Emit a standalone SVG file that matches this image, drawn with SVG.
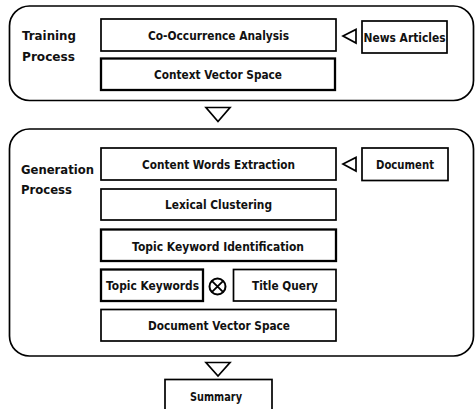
<svg xmlns="http://www.w3.org/2000/svg" width="475" height="409" viewBox="0 0 475 409">
<style>
.c{fill:#fff;stroke:#000;stroke-width:1.7}
.b{fill:#fff;stroke:#000;stroke-width:1.7}
.bt{fill:#fff;stroke:#000;stroke-width:2.3}
.t{font-family:"DejaVu Sans",Verdana,sans-serif;font-weight:bold;font-size:12.5px;fill:#111}
.m{text-anchor:middle}
.a{fill:#fff;stroke:#000;stroke-width:1.7;stroke-linejoin:miter}
</style>
<rect width="475" height="409" fill="#fff"/>
<g id="training">
<rect class="c" x="9.5" y="6" width="464" height="94.5" rx="20"/>
<text class="t" x="22" y="39.5" textLength="54" lengthAdjust="spacingAndGlyphs">Training</text>
<text class="t" x="22" y="60.5" textLength="53" lengthAdjust="spacingAndGlyphs">Process</text>
</g>
<g id="generation">
<rect class="c" x="9.5" y="129" width="464" height="227" rx="20"/>
<text class="t" x="21" y="173.5" textLength="73" lengthAdjust="spacingAndGlyphs">Generation</text>
<text class="t" x="21" y="193.5" textLength="51" lengthAdjust="spacingAndGlyphs">Process</text>
</g>
<g id="cooccurrence">
<rect class="b" x="101" y="19" width="235" height="32"/>
<text class="t m" x="218.5" y="39.5" textLength="141" lengthAdjust="spacingAndGlyphs">Co-Occurrence Analysis</text>
</g>
<g id="context">
<rect class="bt" x="101" y="58.5" width="234" height="31.5"/>
<text class="t m" x="218" y="79" textLength="128" lengthAdjust="spacingAndGlyphs">Context Vector Space</text>
</g>
<g id="news">
<rect class="b" x="362" y="21" width="85" height="32"/>
<text class="t m" x="404.5" y="41.5" textLength="82" lengthAdjust="spacingAndGlyphs">News Articles</text>
</g>
<g id="content">
<rect class="b" x="101" y="148" width="235" height="32"/>
<text class="t m" x="218.5" y="168.5" textLength="153" lengthAdjust="spacingAndGlyphs">Content Words Extraction</text>
</g>
<g id="document">
<rect class="b" x="362" y="148" width="86" height="32.5"/>
<text class="t m" x="405" y="168.5" textLength="58" lengthAdjust="spacingAndGlyphs">Document</text>
</g>
<g id="lexical">
<rect class="b" x="101" y="189" width="235" height="31"/>
<text class="t m" x="218.5" y="209" textLength="107" lengthAdjust="spacingAndGlyphs">Lexical Clustering</text>
</g>
<g id="topicid">
<rect class="bt" x="101" y="229.5" width="235" height="31.5"/>
<text class="t m" x="218" y="250.5" textLength="172" lengthAdjust="spacingAndGlyphs">Topic Keyword Identification</text>
</g>
<g id="topickw">
<rect class="bt" x="101" y="269.5" width="102" height="31.5"/>
<text class="t m" x="152.5" y="289.5" textLength="93" lengthAdjust="spacingAndGlyphs">Topic Keywords</text>
</g>
<g id="otimes">
<circle cx="217.5" cy="286.5" r="8" fill="#fff" stroke="#000" stroke-width="2"/>
<path d="M211.8 280.8L223.2 292.2M223.2 280.8L211.8 292.2" stroke="#000" stroke-width="1.8"/>
</g>
<g id="titlequery">
<rect class="b" x="233.5" y="269.5" width="102.5" height="31.5"/>
<text class="t m" x="285" y="289.5" textLength="66" lengthAdjust="spacingAndGlyphs">Title Query</text>
</g>
<g id="docvector">
<rect class="b" x="101" y="309.5" width="235" height="31.5"/>
<text class="t m" x="219" y="329.5" textLength="142" lengthAdjust="spacingAndGlyphs">Document Vector Space</text>
</g>
<g id="summary">
<rect class="b" x="165" y="379.5" width="107" height="35"/>
<text class="t m" x="216" y="400.5" textLength="52" lengthAdjust="spacingAndGlyphs">Summary</text>
</g>
<g id="connectors">
<polygon class="a" points="343,36 356,29.5 356,43"/>
<polygon class="a" points="343,164 356,157.5 356,171"/>
<polygon class="a" points="206,107.5 230,107.5 218,121.5"/>
<polygon class="a" points="206,362.5 230,362.5 218,376"/>
</g>
</svg>
